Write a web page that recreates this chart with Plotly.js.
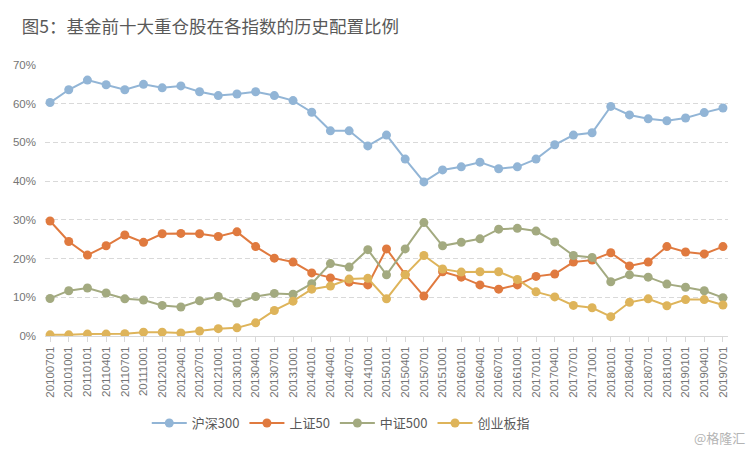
<!DOCTYPE html>
<html>
<head>
<meta charset="utf-8">
<script src="https://cdn.plot.ly/plotly-3.0.1.min.js"></script>
<style>html,body{margin:0;padding:0;background:#fff;}#chart{width:750px;height:450px;}</style>
</head>
<body>
<div id="chart"></div>
<script>
const dates = ["20100701","20101001","20110101","20110401","20110701","20111001","20120101","20120401","20120701","20121001",
"20130101","20130401","20130701","20131001","20140101","20140401","20140701","20141001","20150101","20150401",
"20150701","20151001","20160101","20160401","20160701","20161001","20170101","20170401","20170701","20171001",
"20180101","20180401","20180701","20181001","20190101","20190401","20190701"];

const hs300 = [60.3,63.6,66.1,64.9,63.6,65.0,64.1,64.6,63.1,62.1,
62.5,63.1,62.1,60.8,57.8,53.0,53.0,49.1,51.9,45.7,
39.8,42.9,43.7,44.9,43.2,43.7,45.7,49.4,51.9,52.5,
59.3,57.1,56.1,55.6,56.3,57.7,58.9];

const sz50 = [29.7,24.4,20.9,23.3,26.1,24.2,26.4,26.5,26.4,25.7,
26.9,23.1,20.1,19.1,16.3,15.0,13.9,13.2,22.5,15.9,
10.3,16.6,15.2,13.2,12.1,13.2,15.4,16.0,19.1,19.6,
21.5,18.1,19.1,23.1,21.7,21.2,23.1];

const zz500 = [9.7,11.7,12.4,11.1,9.6,9.3,7.9,7.5,9.1,10.2,
8.5,10.2,11.0,10.8,13.5,18.7,17.8,22.3,15.8,22.5,
29.3,23.3,24.2,25.1,27.6,27.8,27.1,24.3,20.8,20.3,
14.0,15.8,15.2,13.4,12.6,11.7,9.9];

const cyb = [0.3,0.3,0.5,0.5,0.6,1.0,1.0,0.8,1.3,1.9,
2.1,3.4,6.6,9.0,12.1,12.9,14.7,14.9,9.6,15.8,
20.8,17.3,16.5,16.6,16.6,14.6,11.4,10.1,7.9,7.3,
5.0,8.7,9.6,7.8,9.4,9.4,8.0];

const names = ["沪深300","上证50","中证500","创业板指"];
const colors = ["#92B5D6","#E07A3F","#A3AA80","#DEB45A"];
const series = [hs300, sz50, zz500, cyb];

const traces = series.map((s, i) => ({
  x: dates,
  y: s.map(v => v / 100),
  name: names[i],
  type: "scatter",
  mode: "lines+markers",
  line: {color: colors[i], width: 2},
  marker: {color: colors[i], size: 9}
}));

const layout = {
  width: 750, height: 450,
  paper_bgcolor: "#fff", plot_bgcolor: "#fff",
  margin: {l: 45, r: 22, t: 65, b: 114},
  title: {text: "图5：基金前十大重仓股在各指数的历史配置比例", x: 0.029, xanchor: "left", y: 0.94, yanchor: "middle",
          font: {family: "Noto Sans CJK SC", size: 17.5, color: "#595959"}},
  showlegend: true,
  legend: {orientation: "h", xref: "paper", x: 0.149, xanchor: "left", yref: "container", y: 0.06, yanchor: "middle",
           font: {family: "Noto Sans CJK SC, Liberation Sans", size: 13, color: "#595959"}, itemwidth: 35, traceorder: "normal"},
  xaxis: {type: "category", range: [-0.27, 36.27], tickangle: -90, showgrid: false, automargin: false,
          showline: true, linecolor: "#D9D9D9", linewidth: 1,
          ticks: "outside", ticklen: 5, tickcolor: "#D9D9D9",
          tickfont: {family: "Liberation Sans", size: 11.5, color: "#757575"}, zeroline: false, fixedrange: true},
  yaxis: {range: [0, 0.7], dtick: 0.1, tickformat: ".0%", showgrid: true, gridcolor: "#D9D9D9", griddash: "5px,3px", gridwidth: 1,
          zeroline: false, showline: false, ticks: "", ticklabelstandoff: 8, automargin: false,
          tickfont: {family: "Liberation Sans", size: 11.5, color: "#757575"}, fixedrange: true},
  annotations: [{text: "@格隆汇", xref: "paper", yref: "paper", x: 1.028, y: -0.373, xanchor: "right", yanchor: "middle",
                 showarrow: false, font: {family: "Noto Sans CJK SC", size: 13, color: "#B4B4B4"}}]
};

Plotly.newPlot("chart", traces, layout, {displayModeBar: false, staticPlot: true});
</script>
</body>
</html>
